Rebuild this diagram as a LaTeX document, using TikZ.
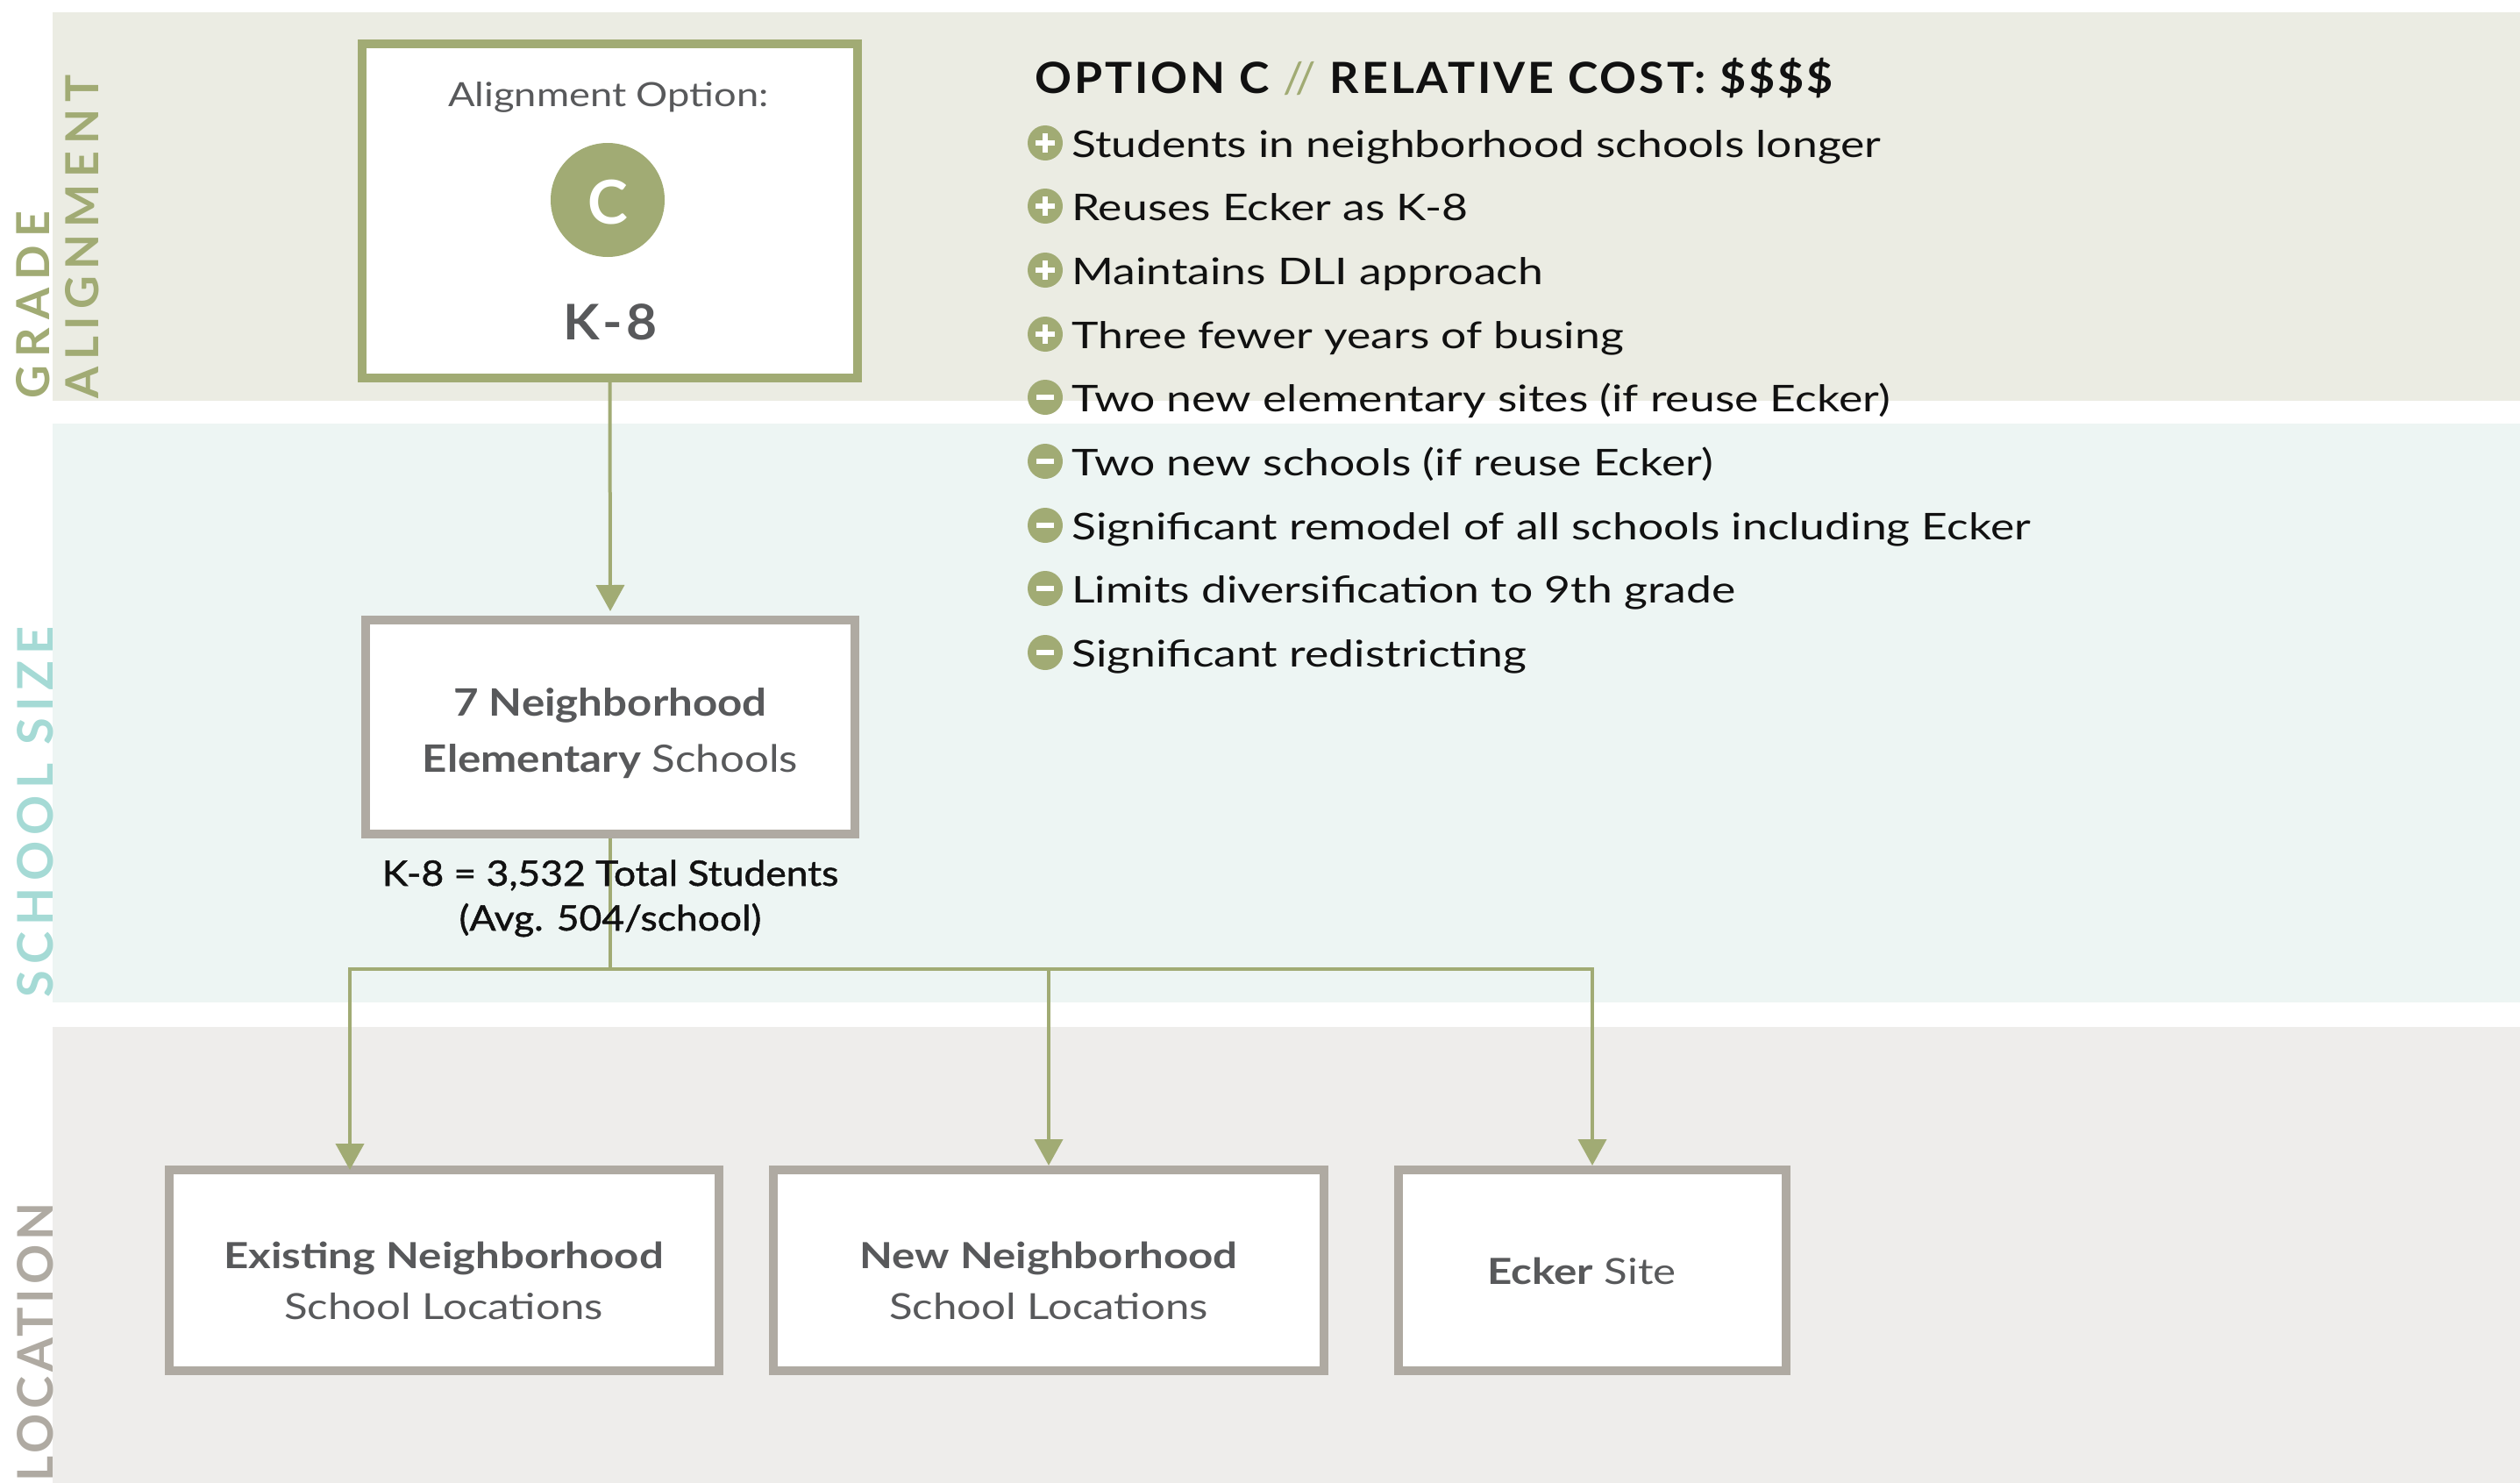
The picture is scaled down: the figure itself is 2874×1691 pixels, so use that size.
\documentclass[tikz,border=0pt]{standalone}
\usepackage{fontspec}
\setmainfont{Lato}
\newfontfamily\vlabA[LetterSpace=18]{Lato}
\newfontfamily\vlabB[LetterSpace=15]{Lato}
\newfontfamily\vlabC[LetterSpace=13]{Lato}
\newfontfamily\vlabD[LetterSpace=9]{Lato}
\newfontfamily\titlefont[LetterSpace=6,FakeStretch=1.06]{Lato}
\newfontfamily\bulletfont[FakeStretch=1.23]{Lato}
\newfontfamily\bottomfont[FakeStretch=1.2]{Lato}
\newfontfamily\midfont[FakeStretch=1.145]{Lato}
\newfontfamily\statfont[FakeStretch=1.11,FakeBold=1.2]{Lato}
\newfontfamily\aoptfont[FakeStretch=1.19]{Lato}
\newfontfamily\kfont[LetterSpace=8,FakeStretch=1.08]{Lato}
\usetikzlibrary{arrows.meta}
\definecolor{cgreen}{HTML}{A1AB74}
\definecolor{cgray}{HTML}{AFAAA2}
\definecolor{bandA}{HTML}{EBECE3}
\definecolor{bandB}{HTML}{EDF5F3}
\definecolor{bandC}{HTML}{EEEDEB}
\definecolor{cteal}{HTML}{A5DAD5}
\definecolor{ctext}{HTML}{58595B}
\definecolor{cblack}{HTML}{111111}
\newcommand\plusmark[1]{\fill[white] (#1) ++(-11,-3) rectangle ++(22,6); \fill[white] (#1) ++(-3,-11) rectangle ++(6,22);}
\newcommand\minusmark[1]{\fill[white] (#1) ++(-10,-3) rectangle ++(20,6);}
\begin{document}
\begin{tikzpicture}[x=1pt,y=-1pt,
  greenbox/.style={draw=cgreen,line width=10pt,fill=white,inner sep=0pt},
  graybox/.style={draw=cgray,line width=10pt,fill=white,inner sep=0pt},
  arr/.style={draw=cgreen,line width=4pt,-{Triangle[width=32pt,length=30pt]}},
  conn/.style={draw=cgreen,line width=4pt},
  boxtxt/.style={anchor=base,text=ctext,font=\bottomfont\fontsize{41}{49}\selectfont,inner sep=0pt},
  stattxt/.style={anchor=base,text=cblack,font=\statfont\fontsize{40}{48}\selectfont,inner sep=0pt},
  bullet/.style={anchor=base west,text=cblack,font=\bulletfont\fontsize{42}{50}\selectfont,inner sep=0pt},
  vlab/.style={rotate=90,anchor=base west,inner sep=0pt},
  icon/.style={circle,fill=cgreen,minimum size=40pt,inner sep=0pt},
]
\useasboundingbox (0,0) rectangle (2874,1691);
% bands
\fill[bandA] (60,14) rectangle (2874,457);
\fill[bandB] (60,483) rectangle (2874,1143);
\fill[bandC] (60,1171) rectangle (2874,1691);
% side labels
\node[vlab,text=cgreen,font=\vlabA\bfseries\fontsize{52}{60}\selectfont] (lg) at (56,455) {GRADE};
\node[vlab,text=cgreen,font=\vlabB\bfseries\fontsize{52}{60}\selectfont] (la) at (112,455) {ALIGNMENT};
\node[vlab,text=cteal,font=\vlabC\bfseries\fontsize{56}{60}\selectfont] (ls) at (60,1138) {SCHOOL SIZE};
\node[vlab,text=cgray,font=\vlabD\bfseries\fontsize{56}{60}\selectfont] (ll) at (60,1690) {LOCATION};
% box A
\node[greenbox,minimum width=565pt,minimum height=381pt] (A) at (695.5,240.5) {};
\node[anchor=base,text=ctext,inner sep=0pt,font=\aoptfont\fontsize{38}{46}\selectfont] (aopt) at (694,122) {Alignment Option:};
\node[circle,fill=cgreen,minimum size=130pt,inner sep=0pt] (circ) at (693,228) {};
\node[anchor=base,text=white,inner sep=0pt,font=\bfseries\fontsize{69}{80}\selectfont] (cletter) at (693,255) {C};
\node[anchor=base,text=ctext,inner sep=0pt,font=\kfont\bfseries\fontsize{56}{64}\selectfont] (k8) at (696,387) {K-8};
% box B
\node[graybox,minimum width=558pt,minimum height=244pt] (B) at (696,829) {};
\node[boxtxt,font=\midfont\bfseries\fontsize{43}{50}\selectfont] (b1) at (696,816) {7 Neighborhood};
\node[boxtxt,font=\midfont\fontsize{43}{50}\selectfont] (b2) at (696,880) {\textbf{Elementary} Schools};
% bottom boxes
\node[graybox,minimum width=627pt,minimum height=229pt] (e1) at (506,1448.5) {};
\node[graybox,minimum width=628pt,minimum height=229pt] (e2) at (1196,1448.5) {};
\node[graybox,minimum width=442pt,minimum height=229pt] (e3) at (1816,1448.5) {};
\node[boxtxt,font=\bottomfont\bfseries\fontsize{41}{49}\selectfont] (e1a) at (506,1446) {Existing Neighborhood};
\node[boxtxt] (e1b) at (506,1504) {School Locations};
\node[boxtxt,font=\bottomfont\bfseries\fontsize{41}{49}\selectfont] (e2a) at (1196,1446) {New Neighborhood};
\node[boxtxt] (e2b) at (1196,1504) {School Locations};
\node[boxtxt] (e3a) at (1804,1464) {\textbf{Ecker} Site};
% connectors
\coordinate (j) at (696,1105);
\coordinate (t1) at (399,1334);
\draw[arr] (A.south) -- ([yshift=5pt]B.north);
\draw[conn] (B.south) -- (j);
\draw[arr] (j) -| (t1);
\draw[arr] (j) -| (e2.north);
\draw[arr] (j) -| (e3.north);
% stats
\node[stattxt] (s1) at (696,1010) {K-8 = 3,532 Total Students};
\node[stattxt] (s2) at (696,1061) {(Avg. 504/school)};
% title
\node[anchor=base west,inner sep=0pt,text=cblack,font=\titlefont\bfseries\fontsize{49}{58}\selectfont] (title) at (1180,107) {OPTION C \textcolor{cgreen}{\mdseries//} RELATIVE COST: \$\$\$\$};
% bullets
\node[icon] (p1) at (1192,163) {}; \plusmark{p1}
\node[icon] (p2) at (1192,235) {}; \plusmark{p2}
\node[icon] (p3) at (1192,308) {}; \plusmark{p3}
\node[icon] (p4) at (1192,381) {}; \plusmark{p4}
\node[icon] (m1) at (1192,453) {}; \minusmark{m1}
\node[icon] (m2) at (1192,526) {}; \minusmark{m2}
\node[icon] (m3) at (1192,599) {}; \minusmark{m3}
\node[icon] (m4) at (1192,671) {}; \minusmark{m4}
\node[icon] (m5) at (1192,744) {}; \minusmark{m5}
\node[bullet] (tp1) at (1222,179) {Students in neighborhood schools longer};
\node[bullet] (tp2) at (1222,251) {Reuses Ecker as K-8};
\node[bullet] (tp3) at (1222,324) {Maintains DLI approach};
\node[bullet] (tp4) at (1222,397) {Three fewer years of busing};
\node[bullet] (tm1) at (1222,469) {Two new elementary sites (if reuse Ecker)};
\node[bullet] (tm2) at (1222,542) {Two new schools (if reuse Ecker)};
\node[bullet] (tm3) at (1222,615) {Significant remodel of all schools including Ecker};
\node[bullet] (tm4) at (1222,687) {Limits diversification to 9th grade};
\node[bullet] (tm5) at (1222,760) {Significant redistricting};
\end{tikzpicture}
\end{document}
